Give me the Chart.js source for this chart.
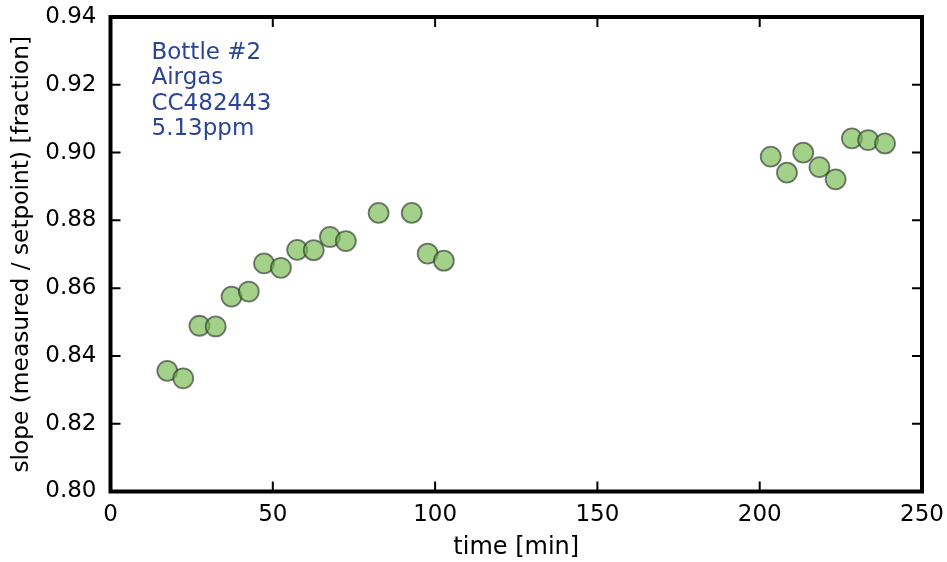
<!DOCTYPE html>
<html>
  <head>
    <script src="https://cdn.jsdelivr.net/npm/chart.js@4.4.0/dist/chart.umd.min.js"></script>
    <style>
      body {
        margin: 0;
        background: white;
      }
      .chart-container {
        width: 947px;
        height: 562px;
      }
    </style>
  </head>
  <body>
    <div class="chart-container">
      <canvas id="myChart"></canvas>
    </div>
    <script>
      var timeMin = [17.5, 22.4, 27.4, 32.4, 37.3, 42.6, 47.3, 52.5, 57.5, 62.6, 67.6, 72.5,
        82.6, 92.8, 97.7, 102.7, 203.4, 208.4, 213.4, 218.4, 223.4, 228.4, 233.4, 238.6];
      var slope = [0.8356, 0.8334, 0.8489, 0.8487, 0.8575, 0.8590, 0.8673, 0.8660, 0.8713, 0.8712,
        0.8751, 0.8739, 0.8822, 0.8822, 0.8702, 0.8681, 0.8988, 0.8941, 0.9000, 0.8957,
        0.8921, 0.9042, 0.9037, 0.9027];
      var xTicks = [0, 50, 100, 150, 200, 250];
      var yTicks = [0.80, 0.82, 0.84, 0.86, 0.88, 0.90, 0.92, 0.94];
      var noteLines = ["Bottle #2", "Airgas", "CC482443", "5.13ppm"];

      var FONT = "'DejaVu Sans', Verdana, sans-serif";

      var points = [];
      for (var i = 0; i < timeMin.length; i++) {
        points.push({ x: timeMin[i], y: slope[i] });
      }

      // frame, inward ticks on every side, and the text box
      var framePlugin = {
        id: "frame",
        afterDraw: function (chart) {
          var ctx = chart.ctx;
          var a = chart.chartArea;
          var xs = chart.scales.x;
          var ys = chart.scales.y;
          ctx.save();
          ctx.strokeStyle = "black";
          ctx.lineWidth = 2;
          xTicks.forEach(function (t) {
            var px = xs.getPixelForValue(t);
            ctx.beginPath();
            ctx.moveTo(px, a.bottom);
            ctx.lineTo(px, a.bottom - 10);
            ctx.moveTo(px, a.top);
            ctx.lineTo(px, a.top + 10);
            ctx.stroke();
          });
          yTicks.forEach(function (t) {
            var py = ys.getPixelForValue(t);
            ctx.beginPath();
            ctx.moveTo(a.left, py);
            ctx.lineTo(a.left + 10, py);
            ctx.moveTo(a.right, py);
            ctx.lineTo(a.right - 10, py);
            ctx.stroke();
          });
          ctx.lineWidth = 4;
          ctx.strokeRect(a.left, a.top, a.right - a.left, a.bottom - a.top);

          ctx.fillStyle = "#2b4593";
          ctx.font = "23px " + FONT;
          ctx.textBaseline = "alphabetic";
          noteLines.forEach(function (s, k) {
            ctx.fillText(s, a.left + 41, a.top + 41.5 + k * 25.5);
          });
          ctx.restore();
        },
      };

      var ctx = document.getElementById("myChart").getContext("2d");
      var chart = new Chart(ctx, {
        type: "scatter",
        data: {
          datasets: [
            {
              data: points,
              backgroundColor: "rgba(115,185,75,0.65)",
              borderColor: "rgba(45,55,45,0.65)",
              borderWidth: 1.8,
              pointRadius: 10,
              pointHoverRadius: 10,
            },
          ],
        },
        options: {
          responsive: true,
          maintainAspectRatio: false,
          animation: false,
          layout: {
            padding: { top: 17, right: 25, left: 0, bottom: 0 },
          },
          plugins: {
            legend: { display: false },
            tooltip: { enabled: false },
          },
          scales: {
            x: {
              type: "linear",
              min: 0,
              max: 250,
              afterBuildTicks: function (scale) {
                scale.ticks = xTicks.map(function (v) { return { value: v }; });
              },
              afterFit: function (scale) {
                scale.height = 70.5;
                scale.paddingLeft = 0;
                scale.paddingRight = 0;
              },
              grid: { display: false, drawTicks: false },
              border: { display: false },
              ticks: {
                color: "black",
                padding: 10,
                font: { family: FONT, size: 23 },
              },
              title: {
                display: true,
                text: "time [min]",
                color: "black",
                font: { family: FONT, size: 24 },
                padding: { top: 2, bottom: 0 },
              },
            },
            y: {
              type: "linear",
              min: 0.8,
              max: 0.94,
              afterBuildTicks: function (scale) {
                scale.ticks = yTicks.map(function (v) { return { value: v }; });
              },
              afterFit: function (scale) {
                scale.width = 110.5;
                scale.paddingTop = 0;
                scale.paddingBottom = 0;
              },
              grid: { display: false, drawTicks: false },
              border: { display: false },
              ticks: {
                color: "black",
                padding: 14,
                font: { family: FONT, size: 23 },
                callback: function (v) {
                  return v.toFixed(2);
                },
              },
              title: {
                display: true,
                text: "slope (measured / setpoint) [fraction]",
                color: "black",
                font: { family: FONT, size: 23.3 },
                padding: { top: 8, bottom: 0 },
              },
            },
          },
        },
        plugins: [framePlugin],
      });
    </script>
  </body>
</html>
